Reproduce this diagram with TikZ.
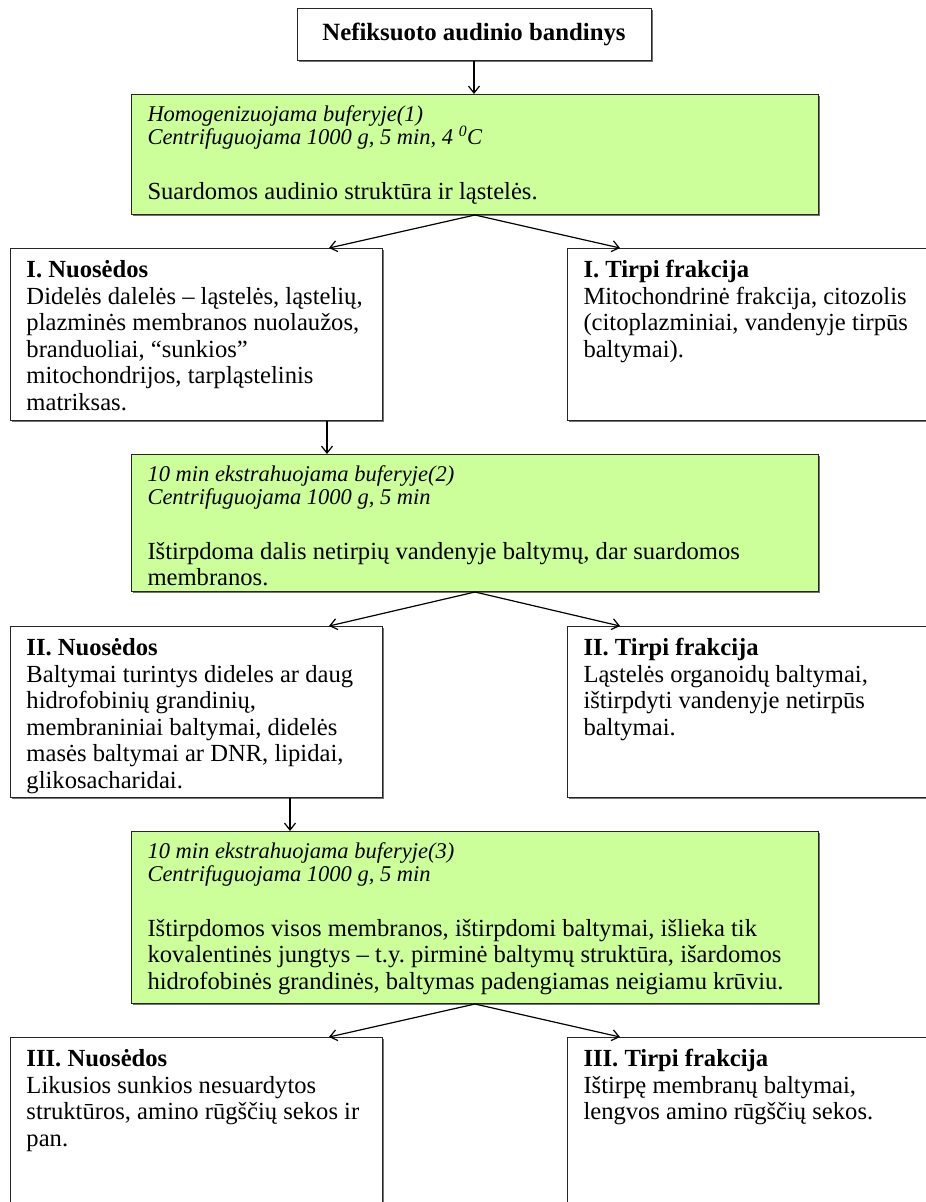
\documentclass[tikz,border=0pt]{standalone}
\usepackage{fontspec}
\setmainfont{Liberation Serif}
\usetikzlibrary{arrows.meta,shadows}
\definecolor{zalia}{RGB}{204,255,153}
\newcommand{\kursyvas}{\fontsize{22.5}{23}\selectfont\itshape}
\frenchspacing

\begin{document}
\begin{tikzpicture}[x=1pt,y=-1pt]
		\tikzstyle{seselis}=[drop shadow={shadow xshift=1.5pt,shadow yshift=-1.5pt,fill=black!55,opacity=1}]
		\tikzstyle{pradzia}=[draw=black!85,line width=1pt,fill=white,seselis,minimum width=354pt,minimum height=52pt,inner sep=0pt,font=\fontsize{24.8}{26.5}\selectfont\bfseries]
		\tikzstyle{etapas}=[draw=black!85,line width=1pt,fill=zalia,seselis,anchor=north west,text width=655pt,inner xsep=16pt,inner ysep=0pt,align=flush left,text height=27pt,font=\fontsize{24.6}{26.5}\selectfont]
		\tikzstyle{frakcija}=[draw=black!85,line width=1pt,fill=white,seselis,anchor=north west,text width=340pt,inner xsep=16pt,inner ysep=0pt,align=flush left,text height=29pt,font=\fontsize{24.6}{26.5}\selectfont]
		\tikzstyle{rodykle}=[-{Straight Barb[length=7pt,width=11pt]},line width=1.2pt]
		\useasboundingbox (0,0) rectangle (926,1202);
		\node[pradzia] (T) at (474,34) {Nefiksuoto audinio bandinys};
		\node[etapas,text depth=93pt] (G1) at (131,94) {
			{\kursyvas Homogenizuojama buferyje(1)\\
			Centrifuguojama 1000 g, 5 min, 4 \textsuperscript{0}C\par}
			\vspace{28pt}
			Suardomos audinio struktūra ir ląstelės.
		};
		\node[frakcija,text depth=143pt] (N1) at (10,248) {
			\textbf{I. Nuosėdos}\\
			Didelės dalelės – ląstelės, ląstelių,\\
			plazminės membranos nuolaužos,\\
			branduoliai, “sunkios”\\
			mitochondrijos, tarpląstelinis\\
			matriksas.
		};
		\node[frakcija,text width=351pt,text depth=143pt] (F1) at (567,248) {
			\textbf{I. Tirpi frakcija}\\
			Mitochondrinė frakcija, citozolis\\
			(citoplazminiai, vandenyje tirpūs\\
			baltymai).
		};
		\node[etapas,text depth=110pt] (G2) at (131,454) {
			{\kursyvas 10 min ekstrahuojama buferyje(2)\\
			Centrifuguojama 1000 g, 5 min\par}
			\vspace{28pt}
			Ištirpdoma dalis netirpių vandenyje baltymų, dar suardomos\\
			membranos.
		};
		\node[frakcija,text depth=142pt] (N2) at (10,626) {
			\textbf{II. Nuosėdos}\\
			Baltymai turintys dideles ar daug\\
			hidrofobinių grandinių,\\
			membraniniai baltymai, didelės\\
			masės baltymai ar DNR, lipidai,\\
			glikosacharidai.
		};
		\node[frakcija,text width=351pt,text depth=142pt] (F2) at (567,626) {
			\textbf{II. Tirpi frakcija}\\
			Ląstelės organoidų baltymai,\\
			ištirpdyti vandenyje netirpūs\\
			baltymai.
		};
		\node[etapas,text depth=145pt] (G3) at (131,831) {
			{\kursyvas 10 min ekstrahuojama buferyje(3)\\
			Centrifuguojama 1000 g, 5 min\par}
			\vspace{28pt}
			Ištirpdomos visos membranos, ištirpdomi baltymai, išlieka tik\\
			kovalentinės jungtys – t.y. pirminė baltymų struktūra, išardomos\\
			hidrofobinės grandinės, baltymas padengiamas neigiamu krūviu.
		};
		\node[frakcija,text depth=160pt] (N3) at (10,1037) {
			\textbf{III. Nuosėdos}\\
			Likusios sunkios nesuardytos\\
			struktūros, amino rūgščių sekos ir\\
			pan.
		};
		\node[frakcija,text width=351pt,text depth=160pt] (F3) at (567,1037) {
			\textbf{III. Tirpi frakcija}\\
			Ištirpę membranų baltymai,\\
			lengvos amino rūgščių sekos.
		};

		\draw[rodykle] (T.south) -- (T.south |- G1.north);
		\draw[rodykle] (G1.south) -- ([xshift=-54pt]N1.north east);
		\draw[rodykle] (G1.south) -- ([xshift=53pt]F1.north west);
		\draw[rodykle] ([xshift=-56pt]N1.south east) -- ([xshift=-56pt]N1.south east |- G2.north);
		\draw[rodykle] (G2.south) -- ([xshift=-54pt]N2.north east);
		\draw[rodykle] (G2.south) -- ([xshift=53pt]F2.north west);
		\draw[rodykle] ([xshift=-93pt]N2.south east) -- ([xshift=-93pt]N2.south east |- G3.north);
		\draw[rodykle] (G3.south) -- ([xshift=-54pt]N3.north east);
		\draw[rodykle] (G3.south) -- ([xshift=53pt]F3.north west);

	\end{tikzpicture}
\end{document}
